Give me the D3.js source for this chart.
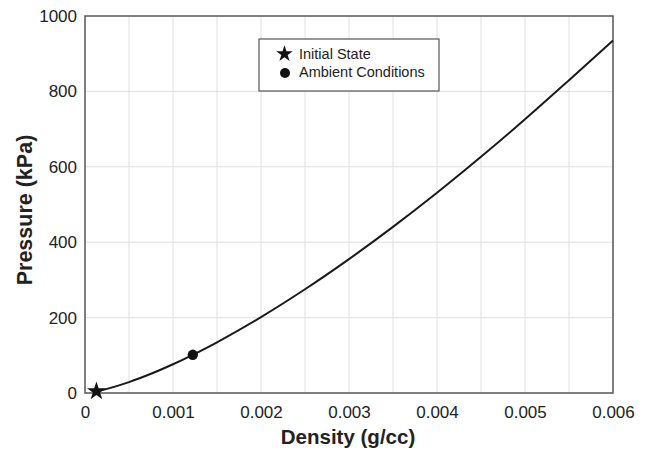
<!DOCTYPE html>
<html>
<head>
<meta charset="utf-8">
<script src="https://cdn.jsdelivr.net/npm/d3@7"></script>
<style>
  html, body { margin: 0; padding: 0; background: #fff; }
  svg { display: block; font-family: "Liberation Sans", Arial, sans-serif; }
</style>
</head>
<body>
<svg id="chart" width="648" height="450"></svg>
<script>
// Isentrope of air: pressure against density
const density = [0.00013, 0.00025, 0.0005, 0.00075, 0.001, 0.001225, 0.0015, 0.002, 0.0025, 0.003, 0.0035, 0.004, 0.0045, 0.005, 0.0055, 0.006];
const pressure = [4.4, 11.0, 28.9, 51.0, 76.3, 101.3, 134.5, 201.3, 275.1, 355.1, 440.6, 531.1, 626.4, 726.0, 829.6, 935.0];

const initialState = { density: 0.00013, pressure: 4.4 };
const ambientState = { density: 0.001225, pressure: 101.3 };

const xTicks = [0, 0.001, 0.002, 0.003, 0.004, 0.005, 0.006];
const xGrid = [0.0005, 0.001, 0.0015, 0.002, 0.0025, 0.003, 0.0035, 0.004, 0.0045, 0.005, 0.0055];
const yTicks = [0, 200, 400, 600, 800, 1000];
const legendLabels = ["Initial State", "Ambient Conditions"];

const svg = d3.select("#chart");
const m = { left: 85, right: 35, top: 16, bottom: 57 };
const W = 648, H = 450;

const x = d3.scaleLinear().domain([0, 0.006]).range([m.left, W - m.right]);
const y = d3.scaleLinear().domain([0, 1000]).range([H - m.bottom, m.top]);

// grid
svg.append("g").selectAll("line").data(xGrid).join("line")
  .attr("x1", d => x(d)).attr("x2", d => x(d))
  .attr("y1", y(0)).attr("y2", y(1000))
  .attr("stroke", "#e0e0e0").attr("stroke-width", 1);
svg.append("g").selectAll("line").data(yTicks.slice(1, -1)).join("line")
  .attr("x1", x(0)).attr("x2", x(0.006))
  .attr("y1", d => y(d)).attr("y2", d => y(d))
  .attr("stroke", "#e0e0e0").attr("stroke-width", 1);

// frame
svg.append("rect")
  .attr("x", x(0)).attr("y", y(1000))
  .attr("width", x(0.006) - x(0)).attr("height", y(0) - y(1000))
  .attr("fill", "none").attr("stroke", "#555").attr("stroke-width", 1.5);

// axes
const xAxis = svg.append("g").attr("transform", `translate(0,${y(0)})`)
  .call(d3.axisBottom(x).tickValues(xTicks).tickSize(0).tickPadding(13)
    .tickFormat(d => d === 0 ? "0" : d3.format(".3f")(d)));
xAxis.select(".domain").remove();
xAxis.selectAll("text").attr("font-size", 17).attr("fill", "#222")
  .attr("font-family", "Liberation Sans, Arial, sans-serif");

const yAxis = svg.append("g").attr("transform", `translate(${x(0)},0)`)
  .call(d3.axisLeft(y).tickValues(yTicks).tickSize(0).tickPadding(8).tickFormat(d3.format("d")));
yAxis.select(".domain").remove();
yAxis.selectAll("text").attr("font-size", 17).attr("fill", "#222")
  .attr("font-family", "Liberation Sans, Arial, sans-serif");

// axis titles
svg.append("text")
  .attr("x", 348).attr("y", 444)
  .attr("text-anchor", "middle").attr("font-size", 20.5).attr("font-weight", "bold")
  .attr("fill", "#222").text("Density (g/cc)");
svg.append("text")
  .attr("transform", `translate(32,210) rotate(-90)`)
  .attr("text-anchor", "middle").attr("font-size", 21.5).attr("font-weight", "bold")
  .attr("fill", "#222").text("Pressure (kPa)");

// curve
const pts = density.map((d, i) => [d, pressure[i]]);
svg.append("path").datum(pts)
  .attr("fill", "none").attr("stroke", "#1a1a1a").attr("stroke-width", 2)
  .attr("d", d3.line().x(d => x(d[0])).y(d => y(d[1])).curve(d3.curveCatmullRom));

// markers
const star = d3.symbol().type(d3.symbolStar);
svg.append("path")
  .attr("d", star.size(110)())
  .attr("transform", `translate(${x(initialState.density)},${y(initialState.pressure)})`)
  .attr("fill", "#111");
svg.append("circle")
  .attr("cx", x(ambientState.density)).attr("cy", y(ambientState.pressure))
  .attr("r", 5.2).attr("fill", "#111");

// legend
const lg = svg.append("g").attr("transform", "translate(259,39)");
lg.append("rect").attr("width", 180).attr("height", 52)
  .attr("fill", "#fff").attr("stroke", "#555").attr("stroke-width", 1.2);
lg.append("path").attr("d", star.size(85)()).attr("transform", "translate(25.5,15)").attr("fill", "#111");
lg.append("circle").attr("cx", 26).attr("cy", 34).attr("r", 5).attr("fill", "#111");
lg.selectAll("text.lab").data(legendLabels).join("text")
  .attr("class", "lab")
  .attr("x", 40).attr("y", (d, i) => 19.5 + i * 18.5)
  .attr("font-size", 14.5).attr("fill", "#222").text(d => d);
</script>
</body>
</html>
